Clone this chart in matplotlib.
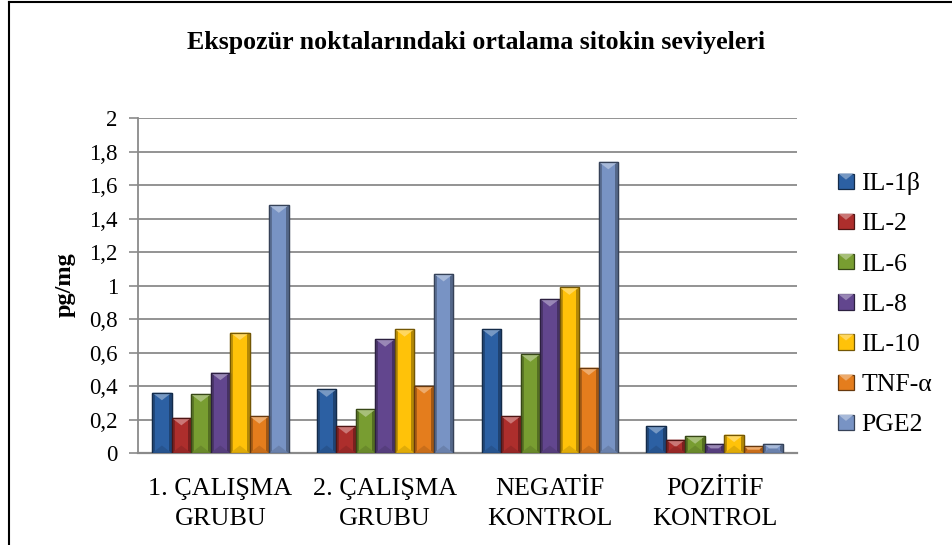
import matplotlib
matplotlib.use("Agg")
import matplotlib.pyplot as plt
import numpy as np
from matplotlib.patches import Polygon, Rectangle
from matplotlib.lines import Line2D
from matplotlib.legend_handler import HandlerBase
import matplotlib.colors as mcolors

plt.rcParams['font.family'] = ['Liberation Serif', 'DejaVu Serif']

# ---------------- data ----------------
categories = ["1. ÇALIŞMA\nGRUBU", "2. ÇALIŞMA\nGRUBU", "NEGATİF\nKONTROL", "POZİTİF\nKONTROL"]
series_names = ["IL-1β", "IL-2", "IL-6", "IL-8", "IL-10", "TNF-α", "PGE2"]
il1b = [0.36, 0.38, 0.74, 0.16]
il2 = [0.21, 0.16, 0.22, 0.08]
il6 = [0.35, 0.26, 0.59, 0.10]
il8 = [0.48, 0.68, 0.92, 0.055]
il10 = [0.72, 0.74, 0.99, 0.11]
tnfa = [0.22, 0.40, 0.51, 0.04]
pge2 = [1.48, 1.07, 1.74, 0.055]
yticks = [0, 0.2, 0.4, 0.6, 0.8, 1.0, 1.2, 1.4, 1.6, 1.8, 2.0]
ytick_labels = ["0", "0,2", "0,4", "0,6", "0,8", "1", "1,2", "1,4", "1,6", "1,8", "2"]
title = "Ekspozür noktalarındaki ortalama sitokin seviyeleri"
ylabel = "pg/mg"

series_values = [il1b, il2, il6, il8, il10, tnfa, pge2]
colors = ["#2c60a3", "#ad2e2c", "#789d31", "#62468e", "#ffc209", "#e47d1d", "#7893c4"]


def mix(c, other, t):
    a = np.array(mcolors.to_rgb(c))
    b = np.array(mcolors.to_rgb(other))
    return tuple(a * (1 - t) + b * t)


W, H = 952, 545
fig = plt.figure(figsize=(W / 100, H / 100), dpi=100)
ax = fig.add_axes([138 / W, 1 - 453 / H, (797 - 138) / W, (453 - 118.3) / H])

n = len(series_names)
group_w = 0.828
bw = group_w / n
x = np.arange(len(categories))

ax.set_xlim(-0.5, len(categories) - 0.5)
ax.set_ylim(0, 2)

# pixel -> data conversions (for bevel styling)
px_x = 1.0 / 164.75
px_y = 2.0 / 334.7

for j, (vals, c) in enumerate(zip(series_values, colors)):
    pos = x + (j - (n - 1) / 2) * bw
    bars = ax.bar(pos, vals, width=bw, color=c, edgecolor=mix(c, "black", 0.55),
                  linewidth=0.9, zorder=3)
    for b in bars:
        x0 = b.get_x()
        w = b.get_width()
        h = b.get_height()
        x1 = x0 + w
        sw = 3.0 * px_x
        # side shading
        ax.add_patch(Rectangle((x0, 0), sw, h, facecolor=mix(c, "black", 0.25),
                               edgecolor="none", zorder=3.5))
        ax.add_patch(Rectangle((x1 - sw, 0), sw, h, facecolor=mix(c, "black", 0.3),
                               edgecolor="none", zorder=3.5))
        # top bevel
        D = 7.5 * px_y
        dd = min(D, h / 2)
        frac = dd / D
        inset = (w / 2) * frac
        ax.add_patch(Polygon([(x0, h), (x1, h), (x1 - inset, h - dd), (x0 + inset, h - dd)],
                             closed=True, facecolor=mix(c, "white", 0.35),
                             edgecolor="none", zorder=3.6))
        # bottom bevel (subtle darker)
        ax.add_patch(Polygon([(x0, 0), (x1, 0), (x1 - inset, dd), (x0 + inset, dd)],
                             closed=True, facecolor=mix(c, "black", 0.12),
                             edgecolor="none", zorder=3.55))
        # outline again on top
        ax.add_patch(Rectangle((x0, 0), w, h, facecolor="none",
                               edgecolor=mix(c, "black", 0.55), linewidth=0.9, zorder=3.7))

# grid & axes styling
grid_c = "#8a8a8a"
ax.set_yticks(yticks)
ax.set_yticklabels(ytick_labels)
ax.yaxis.grid(True, color=grid_c, linewidth=1.3, zorder=0)
ax.set_axisbelow(True)
for s in ["top", "right"]:
    ax.spines[s].set_visible(False)
ax.spines["left"].set_color(grid_c)
ax.spines["bottom"].set_color(grid_c)
ax.spines["left"].set_linewidth(1.3)
ax.spines["bottom"].set_linewidth(1.6)
ax.tick_params(axis="y", direction="out", length=6.5, width=1.2, color=grid_c,
               labelsize=16.5, pad=8)
ax.set_xticks(x)
ax.set_xticklabels(categories, fontsize=18.8, linespacing=1.47)
ax.tick_params(axis="x", length=0, pad=18)

# y label
fig.text(65 / W, 1 - 285 / H, ylabel, rotation=90, fontsize=17.5, fontweight="bold",
         ha="center", va="center")

# title
fig.text(476 / W, 1 - 42.5 / H, title, fontsize=18.6, fontweight="bold",
         ha="center", va="center")


# legend with bevelled squares
class BevelHandler(HandlerBase):
    def __init__(self, color):
        super().__init__()
        self.c = color

    def create_artists(self, legend, orig_handle, xdescent, ydescent, width, height,
                       fontsize, trans):
        c = self.c
        s = min(width, height)
        x0 = -xdescent + (width - s) / 2
        y0 = -ydescent + (height - s) / 2
        r = Rectangle((x0, y0), s, s, facecolor=c, edgecolor=mix(c, "black", 0.55),
                      linewidth=0.9, transform=trans)
        d = s * 0.4
        tri = Polygon([(x0, y0 + s), (x0 + s, y0 + s), (x0 + s / 2, y0 + s - d)],
                      closed=True, facecolor=mix(c, "white", 0.35), edgecolor="none",
                      transform=trans)
        return [r, tri]


handles = [Rectangle((0, 0), 1, 1) for _ in series_names]
hmap = {h: BevelHandler(c) for h, c in zip(handles, colors)}
leg = fig.legend(handles, series_names, handler_map=hmap, loc="upper left",
                 bbox_to_anchor=(828 / W, 1 - 162 / H), frameon=False,
                 fontsize=18.5, handlelength=0.6, handleheight=0.6,
                 handletextpad=0.3, labelspacing=0.70, borderaxespad=0)

# outer frame (partial chart border)
fig.add_artist(Line2D([8.5 / W, 8.5 / W], [0, 1 - 2 / H], color="black", linewidth=1.5,
                      transform=fig.transFigure))
fig.add_artist(Line2D([8.5 / W, 1], [1 - 2 / H, 1 - 2 / H], color="black", linewidth=1.5,
                      transform=fig.transFigure))

fig.savefig("out.png", dpi=100)
